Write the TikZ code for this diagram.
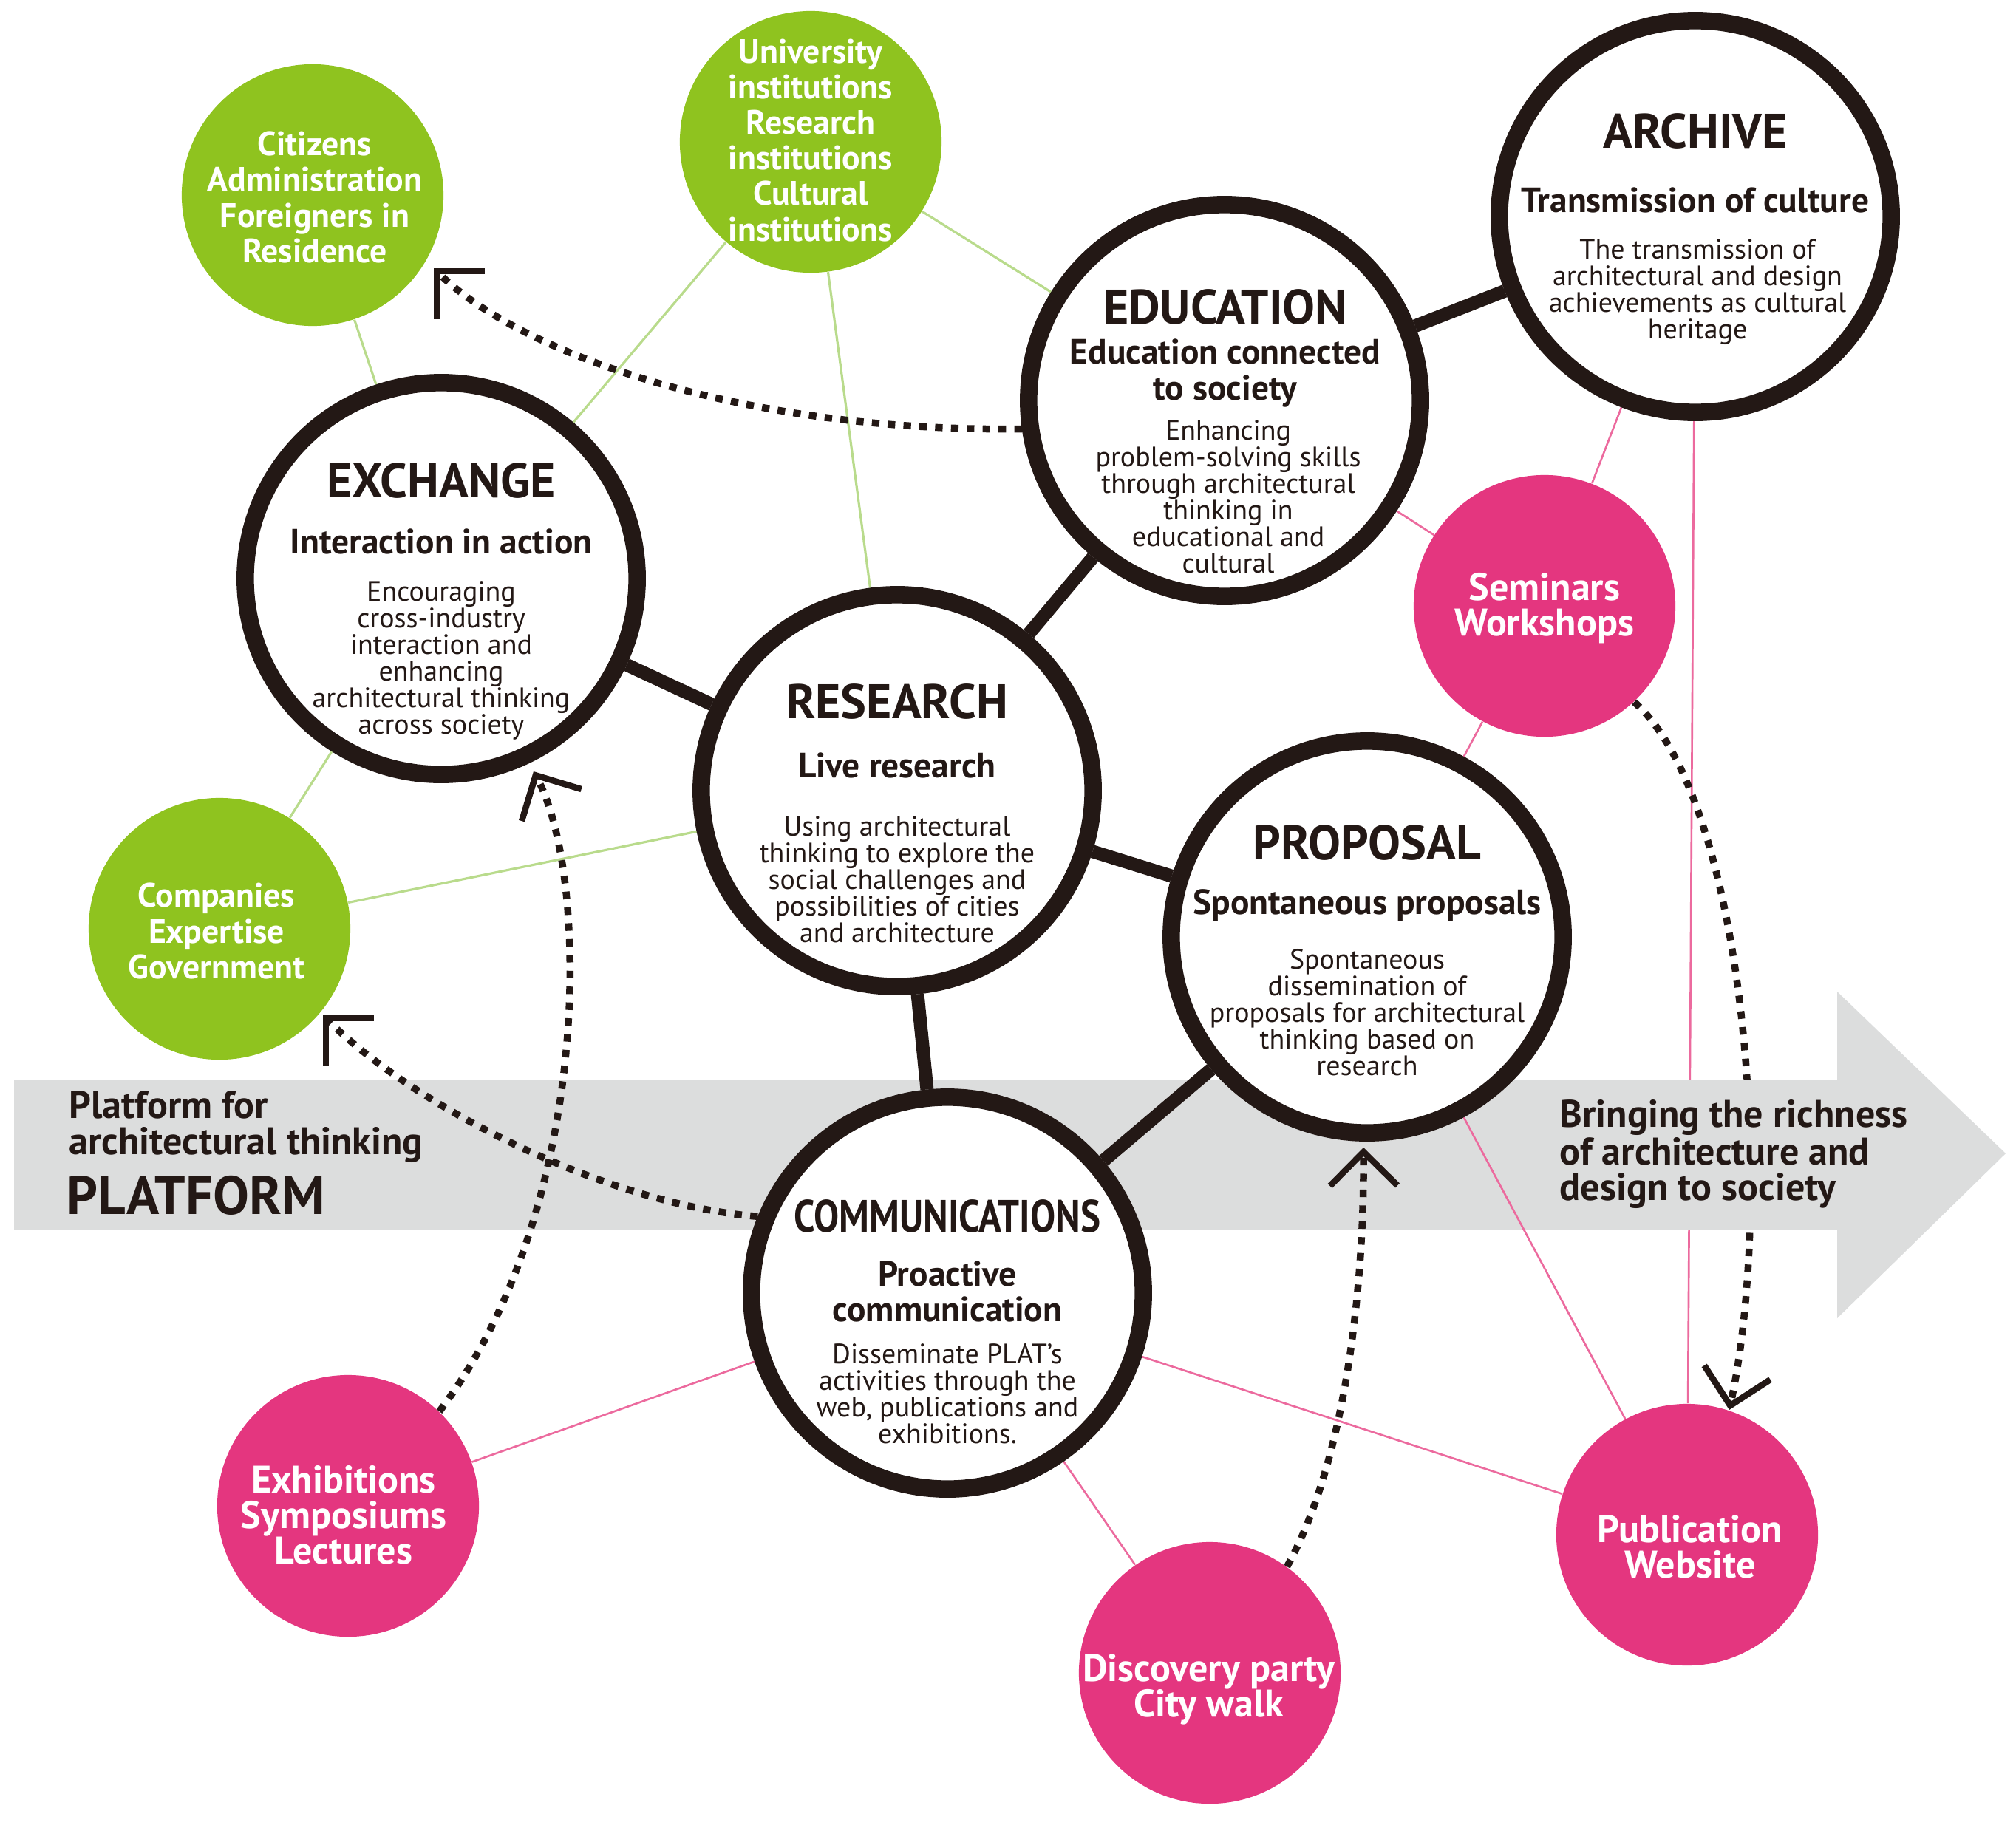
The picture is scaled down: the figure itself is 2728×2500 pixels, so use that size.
\documentclass[tikz,border=0pt]{standalone}
\usepackage{fontspec}
\usepackage{graphicx}
\setmainfont{PT Sans}
\usetikzlibrary{arrows.meta}
\definecolor{ink}{HTML}{231815}
\definecolor{leaf}{HTML}{8FC31F}
\definecolor{rose}{HTML}{E4367F}
\definecolor{leafline}{HTML}{B9DB8C}
\definecolor{roseline}{HTML}{EC6A9E}
\definecolor{bandgray}{HTML}{DCDDDD}
\newcommand{\fsz}[2]{\fontsize{#1}{#2}\selectfont}
\pgfdeclarelayer{bg}
\pgfdeclarelayer{bandl}
\pgfdeclarelayer{lines}
\pgfsetlayers{bg,bandl,lines,main}
\begin{document}
\begin{tikzpicture}[x=0.01cm,y=-0.01cm,
  bigc/.style={circle, draw=ink, fill=white, line width=6.7pt, minimum size=5.3cm, inner sep=0pt},
  greenc/.style={circle, fill=leaf, minimum size=3.54cm, inner sep=0pt},
  pinkc/.style={circle, fill=rose, minimum size=3.54cm, inner sep=0pt},
  ttl/.style={font={\bfseries\fsz{18.7}{20}}, text=ink, inner sep=0pt},
  sub/.style={font={\bfseries\fsz{13.5}{13.66}}, text=ink, align=center, inner sep=0pt},
  desc/.style={font={\fsz{10.8}{10.24}}, text=ink, align=center, inner sep=0pt},
  wlab/.style={font={\bfseries\fsz{13}{13.66}}, text=white, align=center, inner sep=0pt},
  plab/.style={font={\bfseries\fsz{14.8}{13.66}}, text=white, align=center, inner sep=0pt},
  bandtxt/.style={font={\bfseries\fsz{14.8}{13.66}}, text=ink, align=left, inner sep=0pt, anchor=west},
  gline/.style={draw=leafline, line width=0.9pt},
  pline/.style={draw=roseline, line width=0.75pt},
  link/.style={draw=ink, line width=5.1pt},
  dotarr/.style={draw=ink, line width=2.7pt, dash pattern=on 2.9pt off 3.2pt,
     -{Straight Barb[length=13pt,width=26pt,line width=2.4pt]}}
]
\useasboundingbox (0,0) rectangle (2728,2500);
\begin{pgfonlayer}{bg}
\fill[white] (0,0) rectangle (2728,2500);
\end{pgfonlayer}

% main circles
\node[bigc] (exch) at (597,783) {};
\node[bigc] (res) at (1214,1070) {};
\node[bigc] (edu) at (1657,542) {};
\node[bigc] (arch) at (2294,293) {};
\node[bigc] (prop) at (1850,1268) {};
\node[bigc] (comm) at (1282,1750) {};
% partner circles
\node[greenc] (cit) at (423,264) {};
\node[greenc] (univ) at (1097,192) {};
\node[greenc] (comp) at (297,1257) {};
\node[pinkc] (sem) at (2090,820) {};
\node[pinkc] (exh) at (471,2038) {};
\node[pinkc] (disc) at (1637,2264) {};
\node[pinkc] (pub) at (2283,2077) {};

% texts in main circles
\node[ttl] (exchT) at (597,650) {EXCHANGE};
\node[sub] (exchS) at (597,733) {Interaction in action};
\node[desc] (exchD) at (597,894) {Encouraging\\cross-industry\\interaction and\\enhancing\\architectural thinking\\across society};

\node[ttl] (eduT) at (1658,415) {EDUCATION};
\node[sub] (eduS) at (1658,505) {Education connected\\to society};
\node[desc] (eduD) at (1662,672) {Enhancing\\problem-solving skills\\through architectural\\thinking in\\educational and\\cultural};

\node[ttl] (archT) at (2294,177) {ARCHIVE};
\node[sub] (archS) at (2294,271) {Transmission of culture};
\node[desc] (archD) at (2297,395) {The transmission of\\architectural and design\\achievements as cultural\\heritage};

\node[ttl] (resT) at (1214,949) {RESEARCH};
\node[sub] (resS) at (1214,1036) {Live research};
\node[desc] (resD) at (1214,1190) {Using architectural\\thinking to explore the\\social challenges and\\possibilities of cities\\and architecture};

\node[ttl] (propT) at (1850,1140) {PROPOSAL};
\node[sub] (propS) at (1850,1225) {Spontaneous proposals};
\node[desc] (propD) at (1850,1370) {Spontaneous\\dissemination of\\proposals for architectural\\thinking based on\\research};

\node[ttl, font={\bfseries\fsz{17.5}{20}}] (commT) at (1282,1646) {\scalebox{0.83}[1]{COMMUNICATIONS}};
\node[sub] (commS) at (1282,1748) {Proactive\\communication};
\node[desc] (commD) at (1282,1886) {Disseminate PLAT's\\activities through the\\web, publications and\\exhibitions.};

% texts in partner circles
\node[wlab] (citL) at (426,267) {Citizens\\Administration\\Foreigners in\\Residence};
\node[wlab] (univL) at (1097,190) {University\\institutions\\Research\\institutions\\Cultural\\institutions};
\node[wlab] (compL) at (293,1260) {Companies\\Expertise\\Government};
\node[plab] (semL) at (2090,823) {Seminars\\Workshops};
\node[plab] (exhL) at (465,2050) {Exhibitions\\Symposiums\\Lectures};
\node[plab] (discL) at (1636,2286) {Discovery party\\City walk};
\node[plab] (pubL) at (2287,2093) {Publication\\Website};

% band texts
\node[bandtxt] (platA) at (93,1525) {Platform for\\architectural thinking};
\node[bandtxt, font={\bfseries\fsz{20.8}{22}}] (platB) at (90,1618) {PLATFORM};
\node[bandtxt] (bring) at (2110,1562) {Bringing the richness\\of architecture and\\design to society};

% tip points of the dotted arrows
\coordinate (tipCit) at (587,363);
\coordinate (tipComp) at (437,1374);
\coordinate (tipExch) at (722,1044);
\coordinate (tipProp) at (1845,1553);
\coordinate (tipPub) at (2340,1908);

\begin{pgfonlayer}{bg}
\draw[pline] (arch) -- (pub);
\draw[dotarr] (sem.-47) .. controls (2360,1080) and (2403,1614) .. (tipPub);
\end{pgfonlayer}

\begin{pgfonlayer}{bandl}
\fill[bandgray] (19,1461) -- (2486,1461) -- (2486,1342) -- (2714,1561) -- (2486,1784) -- (2486,1664) -- (19,1664) -- cycle;
\end{pgfonlayer}

\begin{pgfonlayer}{lines}
\draw[gline] (cit) -- (exch);
\draw[gline] (univ) -- (exch);
\draw[gline] (univ) -- (res);
\draw[gline] (univ) -- (edu);
\draw[gline] (comp) -- (exch);
\draw[gline] (comp) -- (res);
\draw[pline] (arch) -- (sem);
\draw[pline] (edu) -- (sem);
\draw[pline] (sem) -- (prop);
\draw[pline] (prop) -- (pub);
\draw[pline] (comm) -- (pub);
\draw[pline] (comm) -- (disc);
\draw[pline] (comm) -- (exh);
\draw[link] (exch) -- (res);
\draw[link] (res) -- (edu);
\draw[link] (edu) -- (arch);
\draw[link] (res) -- (prop);
\draw[link] (res) -- (comm);
\draw[link] (comm) -- (prop);
\draw[dotarr] (edu.188) .. controls (1000,585) and (700,476) .. (tipCit);
\draw[dotarr] (comm.158) .. controls (820,1630) and (560,1497) .. (tipComp);
\draw[dotarr] (exh.46) .. controls (800,1640) and (800,1190) .. (tipExch);
\draw[dotarr] (disc.54) .. controls (1830,1960) and (1846,1700) .. (tipProp);
\end{pgfonlayer}
\end{tikzpicture}
\end{document}
